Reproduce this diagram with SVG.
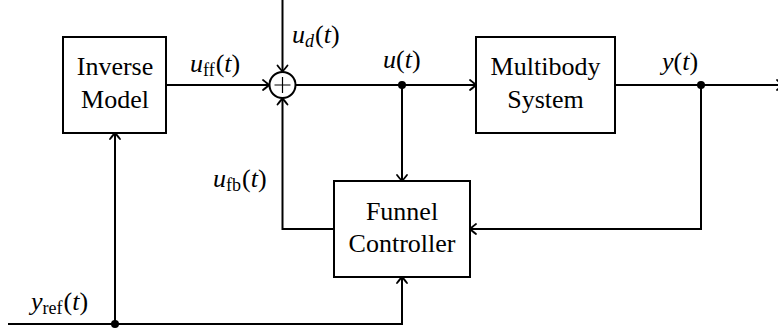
<svg xmlns="http://www.w3.org/2000/svg" width="778" height="333" viewBox="0 0 778 333">
  <defs>
    <marker id="to" markerUnits="userSpaceOnUse" markerWidth="14" markerHeight="14" viewBox="-8 -7 10 14" refX="0" refY="0" orient="auto" overflow="visible">
      <path d="M -6 -5 Q -1.5 -1.5 0 0 Q -1.5 1.5 -6 5" fill="none" stroke="#000" stroke-width="1.8" stroke-linecap="round"/>
    </marker>
  </defs>

  <!-- signal lines -->
  <g id="connectors" fill="none" stroke="#000" stroke-width="2">
    <!-- feedforward into summing junction -->
    <path d="M166 85 H269" marker-end="url(#to)"/>
    <!-- disturbance input -->
    <path d="M282.5 0 V71.5" marker-end="url(#to)"/>
    <!-- summed input to plant -->
    <path d="M296 85 H476" marker-end="url(#to)"/>
    <!-- plant output -->
    <path d="M615 85 H783" marker-end="url(#to)"/>
    <!-- u(t) tap to controller -->
    <path d="M402 85 V181" marker-end="url(#to)"/>
    <!-- output feedback to controller -->
    <path d="M701 85 V229 H470" marker-end="url(#to)"/>
    <!-- controller output back to junction -->
    <path d="M334 229 H282.5 V98.5" marker-end="url(#to)"/>
    <!-- reference signal -->
    <path d="M8 324 H402 V277" marker-end="url(#to)"/>
    <path d="M115 324 V133" marker-end="url(#to)"/>
    <g fill="#000" stroke="none">
      <circle cx="402" cy="85" r="4"/>
      <circle cx="701" cy="85" r="4"/>
      <circle cx="115" cy="324" r="4"/>
    </g>
  </g>

  <g id="inverse-model">
    <rect x="63" y="37" width="103" height="96" fill="#fff" stroke="#000" stroke-width="2"/>
    <text x="115" y="75" text-anchor="middle" font-family="Liberation Serif" font-size="26">Inverse</text>
    <text x="115" y="108" text-anchor="middle" font-family="Liberation Serif" font-size="26">Model</text>
  </g>

  <g id="sum">
    <circle cx="282.5" cy="85" r="13" fill="#fff" stroke="#000" stroke-width="2"/>
    <path d="M282.5 77 V93 M274.5 85 H290.5" stroke="#000" stroke-width="1.2"/>
  </g>

  <g id="multibody-system">
    <rect x="476" y="37" width="139" height="96" fill="#fff" stroke="#000" stroke-width="2"/>
    <text x="545.5" y="75" text-anchor="middle" font-family="Liberation Serif" font-size="26">Multibody</text>
    <text x="545.5" y="108" text-anchor="middle" font-family="Liberation Serif" font-size="26">System</text>
  </g>

  <g id="funnel-controller">
    <rect x="334" y="181" width="136" height="96" fill="#fff" stroke="#000" stroke-width="2"/>
    <text x="402" y="220" text-anchor="middle" font-family="Liberation Serif" font-size="26">Funnel</text>
    <text x="402" y="252" text-anchor="middle" font-family="Liberation Serif" font-size="26">Controller</text>
  </g>

  <!-- signal labels -->
  <g id="labels">
    <text x="190" y="72" font-family="Liberation Serif" font-size="26"><tspan font-style="italic">u</tspan><tspan font-size="18" dy="4">ff</tspan><tspan dy="-4" dx="1">(</tspan><tspan font-style="italic">t</tspan>)</text>
    <text x="292" y="43" font-family="Liberation Serif" font-size="26"><tspan font-style="italic">u</tspan><tspan font-size="18" font-style="italic" dy="4">d</tspan><tspan dy="-4" dx="1">(</tspan><tspan font-style="italic">t</tspan>)</text>
    <text x="383" y="68" font-family="Liberation Serif" font-size="26"><tspan font-style="italic">u</tspan>(<tspan font-style="italic">t</tspan>)</text>
    <text x="662" y="70" font-family="Liberation Serif" font-size="26"><tspan font-style="italic">y</tspan>(<tspan font-style="italic">t</tspan>)</text>
    <text x="213" y="187" font-family="Liberation Serif" font-size="26"><tspan font-style="italic">u</tspan><tspan font-size="18" dy="4">fb</tspan><tspan dy="-4" dx="1">(</tspan><tspan font-style="italic">t</tspan>)</text>
    <text x="31" y="310" font-family="Liberation Serif" font-size="26"><tspan font-style="italic">y</tspan><tspan font-size="18" dy="4">ref</tspan><tspan dy="-4" dx="1">(</tspan><tspan font-style="italic">t</tspan>)</text>
  </g>
</svg>
